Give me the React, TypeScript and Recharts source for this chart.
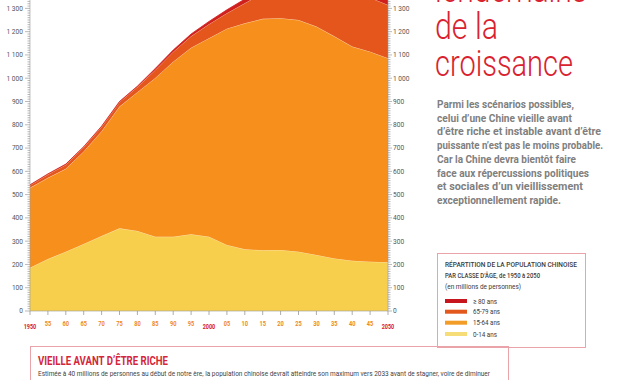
import React from 'react';
import { AreaChart, Area, XAxis, YAxis } from 'recharts';

// ---- data (millions of persons) ----
const years = [1950, 1955, 1960, 1965, 1970, 1975, 1980, 1985, 1990, 1995, 2000, 2005, 2010, 2015, 2020, 2025, 2030, 2035, 2040, 2045, 2050];
const age0to14 = [186, 223, 255, 288, 322, 355, 344, 319, 319, 330, 319, 284, 265, 261, 262, 255, 241, 226, 216, 212, 209];
const age15to64 = [343, 349, 356, 397, 450, 523, 596, 682, 752, 801, 853, 929, 971, 994, 996, 995, 981, 954, 920, 902, 877];
const age65to79 = [11, 14, 17, 18, 19, 19, 22, 34, 42, 49, 60, 66, 86, 110, 135, 165, 195, 225, 235, 232, 228];
const age80plus = [2, 3, 3, 3, 3, 3, 4, 7, 8, 10, 12, 15, 18, 22, 28, 33, 40, 50, 65, 80, 100];

const xTicks = [1950, 1955, 1960, 1965, 1970, 1975, 1980, 1985, 1990, 1995, 2000, 2005, 2010, 2015, 2020, 2025, 2030, 2035, 2040, 2045, 2050];
const xMajor = [1950, 2000, 2050];
const yMajorTicks = [0, 100, 200, 300, 400, 500, 600, 700, 800, 900, 1000, 1100, 1200, 1300];
const yMinorTicks = Array.from({ length: 134 }, (_, i) => i * 10);
const yMax = 1336;

const seriesNames = ['\u2265 80 ans', '65-79 ans', '15-64 ans', '0-14 ans'];
const seriesColors = ['#D0201D', '#E4561C', '#F78F1D', '#F7CF4C'];
const legendColors = ['#C8161F', '#E2581D', '#F29D28', '#F6DD78'];

const titleLines = ['lendemains', 'de la', 'croissance'];
const introLines = [
  'Parmi les sc\u00e9narios possibles,',
  'celui d\u2019une Chine vieille avant',
  'd\u2019\u00eatre riche et instable avant d\u2019\u00eatre',
  'puissante n\u2019est pas le moins probable.',
  'Car la Chine devra bient\u00f4t faire',
  'face aux r\u00e9percussions politiques',
  'et sociales d\u2019un vieillissement',
  'exceptionnellement rapide.',
];
const introWidths = [137, 135, 164, 166, 139, 152, 146, 124];
const legendTitle = [
  'R\u00c9PARTITION DE LA POPULATION CHINOISE',
  'PAR CLASSE D\u2019\u00c2GE, de 1950 \u00e0 2050',
  '(en millions de personnes)',
];
const legendTitleWidths = [132, 95, 76];
const boxHeading = 'VIEILLE AVANT D\u2019\u00caTRE RICHE';
const boxText =
  'Estim\u00e9e \u00e0 40 millions de personnes au d\u00e9but de notre \u00e8re, la population chinoise devrait atteindre son maximum vers 2033 avant de stagner, voire de diminuer';

const data = years.map((y, i) => ({
  year: y,
  a: age0to14[i],
  b: age15to64[i],
  c: age65to79[i],
  d: age80plus[i],
}));

const FONT = "Roboto, 'Liberation Sans', sans-serif";

const fmt = (v: number) => (v >= 1000 ? `${Math.floor(v / 1000)}\u00a0${String(v % 1000).padStart(3, '0')}` : String(v));

const LeftTick = (props: any) => {
  const { x, y, payload } = props;
  const v = payload.value;
  const major = yMajorTicks.includes(v);
  return (
    <g>
      <line x1={x - (major ? 5 : 2.5)} x2={x} y1={y} y2={y} stroke="#8a8a8a" strokeWidth={0.6} />
      {major && (
        <text x={x - 7} y={y} dy={2.4} textAnchor="end" fontSize={6.6} fontFamily={FONT} fill="#555">
          {fmt(v)}
        </text>
      )}
    </g>
  );
};

const RightTick = (props: any) => {
  const { x, y, payload } = props;
  const v = payload.value;
  const major = yMajorTicks.includes(v);
  return (
    <g>
      <line x1={x} x2={x + (major ? 4 : 2.5)} y1={y} y2={y} stroke="#8a8a8a" strokeWidth={0.6} />
      {major && (
        <text x={x + 5} y={y} dy={2.4} textAnchor="start" fontSize={6.6} fontFamily={FONT} fill="#555">
          {fmt(v)}
        </text>
      )}
    </g>
  );
};

const BottomTick = (props: any) => {
  const { x, y, payload } = props;
  const v = payload.value;
  const major = xMajor.includes(v);
  const label = major ? String(v) : String(v).slice(2);
  return (
    <g>
      <line x1={x} x2={x} y1={y} y2={y + 4} stroke="#8a8a8a" strokeWidth={0.7} />
      <text
        x={x}
        y={y + (major ? 17.5 : 14.5)}
        textAnchor="middle"
        fontSize={7}
        fontWeight={700}
        fontFamily={FONT}
        fill={major ? '#D6202E' : '#EE8A22'}
        textLength={major ? 12.5 : 6.5}
        lengthAdjust="spacingAndGlyphs"
      >
        {label}
      </text>
    </g>
  );
};

export default function App() {
  const sep = 'rgba(255,238,205,0.75)';
  const itemY = [301, 311.7, 322.7, 334];
  return (
    <div style={{ position: 'absolute', left: 0, top: 0, width: 620, height: 380, overflow: 'hidden', background: '#fff' }}>
      <AreaChart width={620} height={380} data={data} margin={{ top: 0, right: 202, bottom: 39, left: 0 }}>
        <XAxis
          dataKey="year"
          type="number"
          domain={[1950, 2050]}
          ticks={xTicks}
          interval={0}
          height={30}
          tickSize={0}
          tickMargin={0}
          tickLine={false}
          axisLine={{ stroke: '#9a9a9a', strokeWidth: 0.6 }}
          tick={(p: any) => <BottomTick {...p} />}
        />
        <YAxis
          yAxisId="left"
          orientation="left"
          width={30}
          domain={[0, yMax]}
          allowDataOverflow
          ticks={yMinorTicks}
          interval={0}
          tickSize={0}
          tickMargin={0}
          tickLine={false}
          axisLine={{ stroke: '#9a9a9a', strokeWidth: 0.6 }}
          tick={(p: any) => <LeftTick {...p} />}
        />
        <YAxis
          yAxisId="right"
          orientation="right"
          width={30}
          domain={[0, yMax]}
          allowDataOverflow
          ticks={yMinorTicks}
          interval={0}
          tickSize={0}
          tickMargin={0}
          tickLine={false}
          axisLine={{ stroke: '#9a9a9a', strokeWidth: 0.6 }}
          tick={(p: any) => <RightTick {...p} />}
        />
        <Area yAxisId="left" type="linear" dataKey="a" name={seriesNames[3]} stackId="1" fill={seriesColors[3]} fillOpacity={1} stroke={sep} strokeWidth={0.8} isAnimationActive={false} />
        <Area yAxisId="left" type="linear" dataKey="b" name={seriesNames[2]} stackId="1" fill={seriesColors[2]} fillOpacity={1} stroke={sep} strokeWidth={0.8} isAnimationActive={false} />
        <Area yAxisId="left" type="linear" dataKey="c" name={seriesNames[1]} stackId="1" fill={seriesColors[1]} fillOpacity={1} stroke={sep} strokeWidth={0.6} isAnimationActive={false} />
        <Area yAxisId="left" type="linear" dataKey="d" name={seriesNames[0]} stackId="1" fill={seriesColors[0]} fillOpacity={1} stroke={seriesColors[0]} strokeWidth={0.8} isAnimationActive={false} />
      </AreaChart>

      <svg width={620} height={380} style={{ position: 'absolute', left: 0, top: 0, pointerEvents: 'none' }}>
        {/* title */}
        {titleLines.map((t, i) => (
          <text
            key={t}
            x={435}
            y={2 + i * 37}
            fontSize={36}
            fontWeight={300}
            fontFamily={FONT}
            fill="#D9222F"
            textLength={[152, 63, 138][i]}
            lengthAdjust="spacingAndGlyphs"
          >
            {t}
          </text>
        ))}
        {/* intro paragraph */}
        {introLines.map((t, i) => (
          <text
            key={t}
            x={437}
            y={108 + i * 13.7}
            fontSize={11}
            fontWeight={700}
            fontFamily={FONT}
            fill="#7f7f7f"
            textLength={introWidths[i]}
            lengthAdjust="spacingAndGlyphs"
          >
            {t}
          </text>
        ))}
        {/* legend box */}
        <rect x={437.5} y={253.5} width={148} height={94} fill="none" stroke="#EBA3AA" strokeWidth={1} />
        {legendTitle.map((t, i) => (
          <text
            key={t}
            x={445}
            y={[267, 277.5, 289][i]}
            fontSize={7.8}
            fontWeight={i === 2 ? 400 : 500}
            fontFamily={FONT}
            fill="#3a3a3a"
            textLength={legendTitleWidths[i]}
            lengthAdjust="spacingAndGlyphs"
          >
            {t}
          </text>
        ))}
        {seriesNames.map((n, i) => (
          <g key={n}>
            <rect x={445} y={itemY[i] - 2} width={22} height={4} fill={legendColors[i]} />
            <text x={473} y={itemY[i] + 2.7} fontSize={7.8} fontFamily={FONT} fill="#3a3a3a" textLength={[24, 27, 27, 24][i]} lengthAdjust="spacingAndGlyphs">
              {n}
            </text>
          </g>
        ))}
        {/* bottom box */}
        <rect x={30.5} y={346.5} width={478} height={60} fill="none" stroke="#EBA3AA" strokeWidth={1} />
        <text x={38} y={365} fontSize={12.5} fontWeight={700} fontFamily={FONT} fill="#D4263A" textLength={130} lengthAdjust="spacingAndGlyphs">
          {boxHeading}
        </text>
        <text x={38} y={375.5} fontSize={7.6} fontFamily={FONT} fill="#444" textLength={452} lengthAdjust="spacingAndGlyphs">
          {boxText}
        </text>
      </svg>
    </div>
  );
}
